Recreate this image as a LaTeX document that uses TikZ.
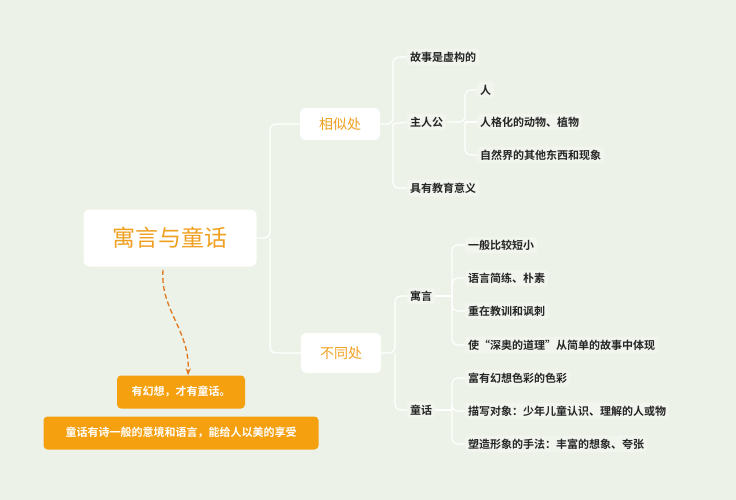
\documentclass[tikz,border=0pt]{standalone}
\usepackage{fontspec}
\setmainfont{Noto Sans CJK SC}
\newfontfamily\cjkb{Noto Sans CJK SC Bold}
\usetikzlibrary{arrows.meta}
\definecolor{bg}{HTML}{EDF2E8}
\definecolor{ln}{HTML}{FFFFFF}
\definecolor{org}{HTML}{F0A020}
\definecolor{orgbox}{HTML}{F5A00F}
\definecolor{darr}{HTML}{E07820}
\definecolor{leafbg}{HTML}{F1F5EE}
\begin{document}
\begin{tikzpicture}[x=1pt,y=-1pt,
  conn/.style={draw=ln,line width=1.2pt,rounded corners=6pt},
  leaf/.style={anchor=west,fill=leafbg,rounded corners=3pt,inner sep=3pt,font=\cjkb\fontsize{11}{13}\selectfont,text=black!85},
  mid/.style={fill=white,rounded corners=5pt,text=org,font=\fontsize{14}{16}\selectfont,minimum width=80pt,minimum height=32pt},
  obox/.style={fill=orgbox,rounded corners=4pt,text=white,font=\cjkb\fontsize{11}{13}\selectfont,minimum height=33pt}]
\fill[bg] (0,0) rectangle (736,500);
\useasboundingbox (0,0) rectangle (736,500);
\node[fill=white,rounded corners=6pt,text=org,font=\fontsize{23}{26}\selectfont,minimum width=173pt,minimum height=57pt] (root) at (170,238) {寓言与童话};
\node[mid] (sim) at (340,124) {相似处};
\node[mid,minimum height=40pt] (dif) at (341,353) {不同处};
\node[leaf] (a1) at (407,57) {故事是虚构的};
\node[leaf] (a2) at (407,122) {主人公};
\node[leaf] (a3) at (407,188) {具有教育意义};
\node[leaf] (b1) at (477,90) {人};
\node[leaf] (b2) at (477,122) {人格化的动物、植物};
\node[leaf] (b3) at (477,155) {自然界的其他东西和现象};
\node[leaf] (c1) at (407,296) {寓言};
\node[leaf] (c2) at (407,410) {童话};
\node[leaf] (d1) at (465,245) {一般比较短小};
\node[leaf] (d2) at (465,278) {语言简练、朴素};
\node[leaf] (d3) at (465,311) {重在教训和讽刺};
\node[leaf] (d4) at (465,345) {使“深奥的道理”从简单的故事中体现};
\node[leaf] (e1) at (465,378) {富有幻想色彩的色彩};
\node[leaf] (e2) at (465,411) {描写对象：少年儿童认识、理解的人或物};
\node[leaf] (e3) at (465,444) {塑造形象的手法：丰富的想象、夸张};
\node[obox,minimum width=128pt] (o1) at (181,392) {有幻想，才有童话。};
\node[obox,minimum width=275pt] (o2) at (181,433) {童话有诗一般的意境和语言，能给人以美的享受};
% connectors
\draw[conn] (root.east) -- (270,238) |- (sim.west);
\draw[conn] (270,238) |- (dif.west);
\draw[conn] (sim.east) -- (393,124) |- (a1.west);
\draw[conn] (393,124) |- (a3.west);
\draw[conn] (393,124) -- (a2.west);
\draw[conn] (a2.east) -- (465,122) |- (b1.west);
\draw[conn] (465,122) |- (b3.west);
\draw[conn] (465,122) -- (b2.west);
\draw[conn] (dif.east) -- (395,353) |- (c1.west);
\draw[conn] (395,353) |- (c2.west);
\coordinate (dj) at (452,296);
\draw[conn] (c1.east) -- (dj);
\draw[conn] (dj) |- (d1.west); \draw[conn] (dj) |- (d2.west);
\draw[conn] (dj) |- (d3.west); \draw[conn] (dj) |- (d4.west);
\coordinate (ej) at (452,410);
\draw[conn] (c2.east) -- (ej);
\draw[conn] (ej) |- (e1.west); \draw[conn] (ej) |- (e2.west); \draw[conn] (ej) |- (e3.west);
\draw[darr,line width=1.3pt,dash pattern=on 5pt off 3pt,-{Stealth[length=7pt]}] (163,270) .. controls (160,310) and (190,330) .. (o1.north -| 188,0);
\end{tikzpicture}
\end{document}
